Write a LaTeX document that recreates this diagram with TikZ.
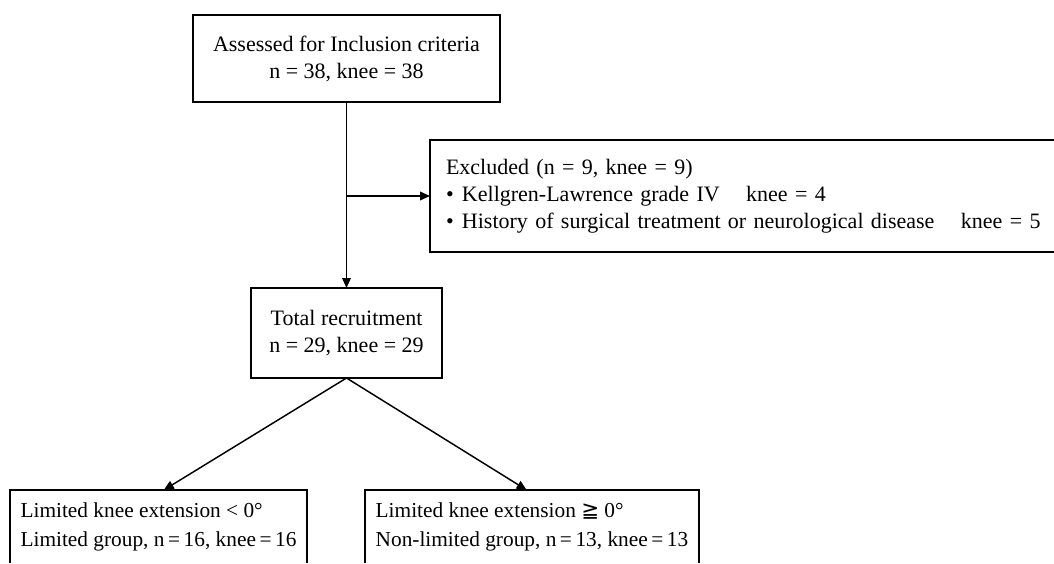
\documentclass[tikz,border=0pt]{standalone}
\usepackage{fontspec}
\setmainfont{Liberation Serif}
\newfontfamily\geqfont{DejaVu Sans}
\usetikzlibrary{arrows.meta}
\begin{document}
\begin{tikzpicture}[x=0.75pt,y=-0.75pt,>={Triangle[length=7.5pt,width=6.5pt]},
    font=\fontsize{16.5pt}{20.25pt}\selectfont]
    \tikzset{
        box/.style={draw,line width=1.1pt,inner sep=0pt,outer sep=0pt},
        stage/.style={box,align=center},
        listing/.style={box,align=left,anchor=north,
            font=\fontsize{16pt}{22pt}\selectfont},
        flow/.style={->,line width=1.1pt}
    }
    \useasboundingbox (0,0) rectangle (1054,564);
    \clip (-20,-20) rectangle (1074,562);

    \node[stage,minimum width=230.25pt,minimum height=65.25pt]
        (assessed) at (346.5,58.5)
        {Assessed for Inclusion criteria\\n = 38, knee = 38};
    \node[box,anchor=west,align=left,minimum width=500pt,minimum height=84pt,
        inner xsep=12pt,text width=476pt]
        (excluded) at (430,196)
        {Excluded (n = 9, knee = 9)\\
         \makebox[12pt][l]{\textbullet}Kellgren-Lawrence grade IV\hspace{1.2em}knee = 4\\
         \makebox[12pt][l]{\textbullet}History of surgical treatment or neurological
         disease\hspace{1.2em}knee = 5};
    \node[stage,minimum width=143.25pt,minimum height=67.5pt]
        (total) at (346.5,333)
        {Total recruitment\\n = 29, knee = 29};

    \node[listing,minimum width=222.75pt,minimum height=55.5pt]
        (limited) at (158.5,490)
        {Limited knee extension < 0°\\Limited group, n\,=\,16, knee\,=\,16};
    \node[listing,minimum width=250.5pt,minimum height=55.5pt]
        (nonlimited) at (532,490)
        {Limited knee extension {\geqfont ≧} 0°\\Non-limited group, n\,=\,13, knee\,=\,13};

    \coordinate (split) at (assessed.south |- excluded.west);
    \draw[flow] (assessed.south) -- (total.north);
    \draw[flow] (split) -- (excluded.west);
    \draw[flow] (total.south) -- ([xshift=4pt]limited.north);
    \draw[flow] (total.south) -- ([xshift=-4pt]nonlimited.north);
\end{tikzpicture}
\end{document}
